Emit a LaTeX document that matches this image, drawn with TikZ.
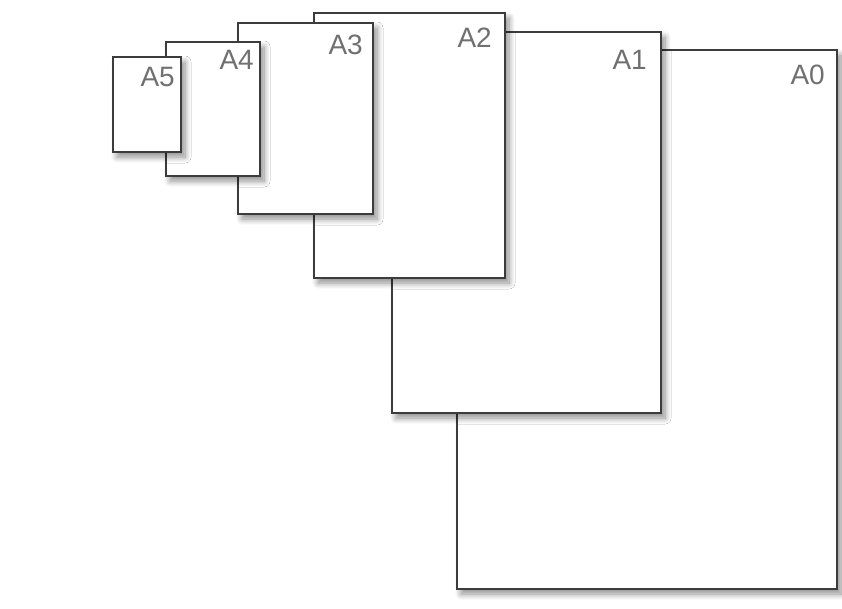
\documentclass[tikz,border=0pt]{standalone}
\usepackage{fontspec}
\setmainfont{Liberation Sans}
\usepackage{tikz}
\usetikzlibrary{positioning}
\usetikzlibrary{shadows.blur}
\definecolor{sheetline}{HTML}{3C3C3C}
\definecolor{sheettext}{HTML}{707070}
\tikzset{
  sheet/.style={shape=rectangle,draw=sheetline,line width=1.4pt,fill=white,inner sep=0,outer sep=0,anchor=north west,
    blur shadow={shadow xshift=4pt,shadow yshift=-5pt,shadow blur radius=6pt,shadow blur steps=10,shadow opacity=45}},
  size/.style={anchor=north east,inner sep=0,text=sheettext,font=\fontsize{28}{28}\selectfont}
}
\begin{document}
\begin{tikzpicture}[x=1pt,y=-1pt]
      \useasboundingbox (0,0) rectangle (842,608);
      \node[sheet,minimum width=380pt,minimum height=539pt] (a0) at (457,50) {};
      \node[sheet,minimum width=269pt,minimum height=381pt] (a1) at (392,32) {};
      \node[sheet,minimum width=191pt,minimum height=265pt] (a2) at (314,13) {};
      \node[sheet,minimum width=135pt,minimum height=191pt] (a3) at (238,23) {};
      \node[sheet,minimum width=94pt,minimum height=134pt] (a4) at (166,42) {};
      \node[sheet,minimum width=68pt,minimum height=95pt] (a5) at (113,57) {};
      \node[size] (l0) at ([shift={(-12,15)}]a0.north east) {A0};
      \node[size] (l1) at ([shift={(-14,18)}]a1.north east) {A1};
      \node[size] (l2) at ([shift={(-13,15)}]a2.north east) {A2};
      \node[size] (l3) at ([shift={(-10,12)}]a3.north east) {A3};
      \node[size] (l4) at ([shift={(-6,8)}]a4.north east) {A4};
      \node[size] (l5) at ([shift={(-6,10)}]a5.north east) {A5};
    \end{tikzpicture}
\end{document}
